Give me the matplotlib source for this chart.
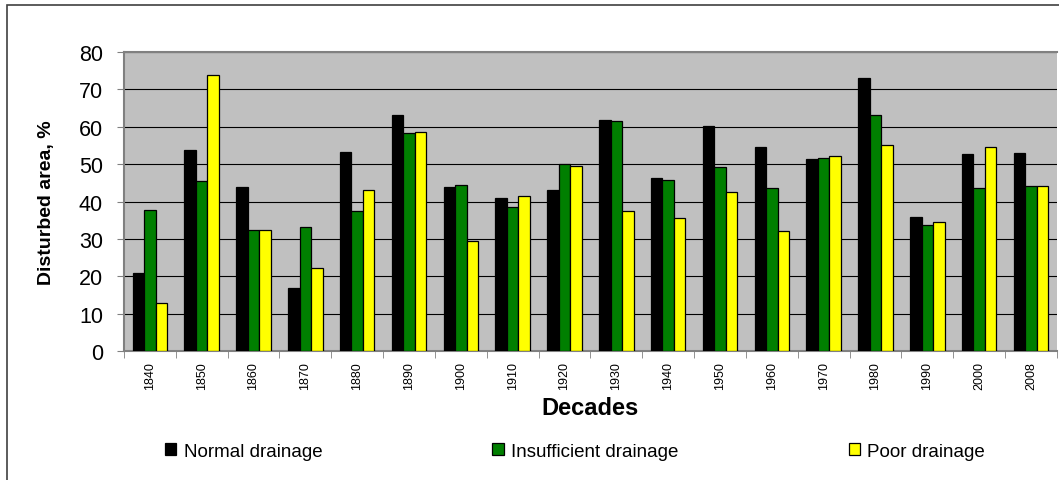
import numpy as np
import matplotlib.pyplot as plt
from matplotlib.patches import Rectangle

plt.rcParams['font.family'] = ['Liberation Sans', 'DejaVu Sans']

decades = ['1840', '1850', '1860', '1870', '1880', '1890', '1900', '1910', '1920',
           '1930', '1940', '1950', '1960', '1970', '1980', '1990', '2000', '2008']
normal = [21.0, 53.9, 43.8, 16.8, 53.3, 63.1, 43.9, 40.9, 43.2,
          61.8, 46.3, 60.2, 54.5, 51.4, 73.0, 35.9, 52.8, 53.1]
insufficient = [37.8, 45.5, 32.3, 33.3, 37.4, 58.3, 44.5, 38.5, 49.9,
                61.4, 45.8, 49.3, 43.5, 51.7, 63.1, 33.8, 43.5, 44.2]
poor = [12.8, 73.8, 32.3, 22.2, 43.1, 58.7, 29.5, 41.6, 49.6,
        37.5, 35.7, 42.5, 32.1, 52.1, 55.0, 34.5, 54.5, 44.2]

series = [('Normal drainage', normal, '#000000'),
          ('Insufficient drainage', insufficient, '#007F00'),
          ('Poor drainage', poor, '#FFFF00')]

fig = plt.figure(figsize=(10.59, 4.81), dpi=100)
ax = fig.add_axes([0.117, 0.268, 0.881, 0.622])
ax.set_facecolor('#C0C0C0')

x = np.arange(len(decades))
w = 0.222
for i, (name, vals, col) in enumerate(series):
    ax.bar(x + (i - 1) * w, vals, w, color=col, edgecolor='black',
           linewidth=0.9, label=name, zorder=3)

ax.set_xlim(-0.5, len(decades) - 0.5)
ax.set_ylim(0, 80)
ax.set_yticks(range(0, 81, 10))
ax.yaxis.grid(True, color='black', linewidth=0.8, zorder=1)
ax.tick_params(axis='y', labelsize=15.5, length=5, color='#808080', pad=10)

# category labels at centers, tick marks at boundaries
ax.set_xticks(x)
ax.set_xticklabels(decades, rotation=90, fontsize=9)
ax.tick_params(axis='x', length=0, pad=7)
ax.set_xticks(np.arange(-0.5, len(decades), 1), minor=True)
ax.tick_params(axis='x', which='minor', length=5, color='#808080')

for s in ['left', 'bottom', 'top']:
    ax.spines[s].set_color('#808080')
    ax.spines[s].set_linewidth(1.5)
ax.spines['right'].set_visible(False)

ax.set_ylabel('Disturbed area, %', fontsize=14, fontweight='bold', labelpad=17)
ax.set_xlabel('Decades', fontsize=17, fontweight='bold', labelpad=5)

fig.legend(loc='lower left', bbox_to_anchor=(0.147, 0.022, 0.792, 0.07),
           mode='expand', ncol=3, frameon=False, fontsize=13.5,
           handlelength=0.6, handleheight=0.6, handletextpad=0.4, borderpad=0)

fig.patches.append(Rectangle((7 / 1059, -0.05), 1.05, 1 - 6 / 481 + 0.05,
                             transform=fig.transFigure, fill=False,
                             edgecolor='#404040', linewidth=1.2))

fig.savefig('out.png', dpi=100)
